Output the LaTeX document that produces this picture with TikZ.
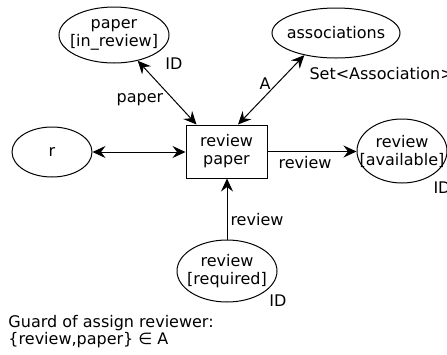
\documentclass[tikz,border=0pt]{standalone}
\usepackage{fontspec}
\setmainfont{DejaVu Sans}
\usetikzlibrary{arrows.meta,shapes.geometric,calc}
\begin{document}
\begin{tikzpicture}[x=1pt,y=-1pt, line width=1pt,
  >={Stealth[length=13pt,width=12pt,inset=4.5pt]},
  every node/.style={font=\fontsize{16}{18}\selectfont, inner sep=0pt},
  place/.style={draw, ellipse},
  trans/.style={draw, rectangle, align=center}
]
\useasboundingbox (0,0) rectangle (447,354);
% places
\node[place, minimum width=110pt, minimum height=56pt] (paper) at (114,35) {};
\node[align=center] (paperT) at (paper) {paper\\{[in\_review]}};
\node[place, minimum width=128pt, minimum height=50pt] (assoc) at (336,33) {};
\node (assocT) at (assoc) {associations};
\node[place, minimum width=80pt, minimum height=50pt] (r) at (52,152) {};
\node (rT) at (r) {r};
\node[place, minimum width=90pt, minimum height=64pt] (avail) at (402,151) {};
\node[align=center] (availT) at (avail) {review\\{[available]}};
\node[place, minimum width=100pt, minimum height=62pt] (req) at (227,271) {};
\node[align=center] (reqT) at (req) {review\\{[required]}};
% transition
\node[trans, minimum width=81pt, minimum height=53pt] (box) at (226.5,151.5) {review\\paper};
% arcs
\coordinate (bp1) at ($(box.north west)+(11,0)$);
\coordinate (bp2) at ($(box.north)+(11.5,0)$);
\draw[<->] (paper) -- (bp1);
\draw[<->] (assoc.215) -- (bp2);
\draw[<->] (r.east) -- (r.east -| box.west);
\draw[->] (box.east) -- (box.east -| avail.west);
\draw[->] (req.north) -- (req.north |- box.south);
% labels
\node (lID1) at (174,64) {ID};
\node (lpaper) at (140,100) {paper};
\node (lA) at (265,84) {A};
\node[anchor=west] (lset) at (309,74) {Set<Association>};
\node (lrev1) at (305,163) {review};
\node[anchor=west] (lID2) at (433,188) {ID};
\node[anchor=west] (lrev2) at (230,220) {review};
\node (lID3) at (278,301) {ID};
\node[anchor=base west] (guard1) at (8,327) {Guard of assign reviewer:};
\node[anchor=base west] (guard2) at (8,344) {\{review,paper\} ∈ A};
\end{tikzpicture}
\end{document}
